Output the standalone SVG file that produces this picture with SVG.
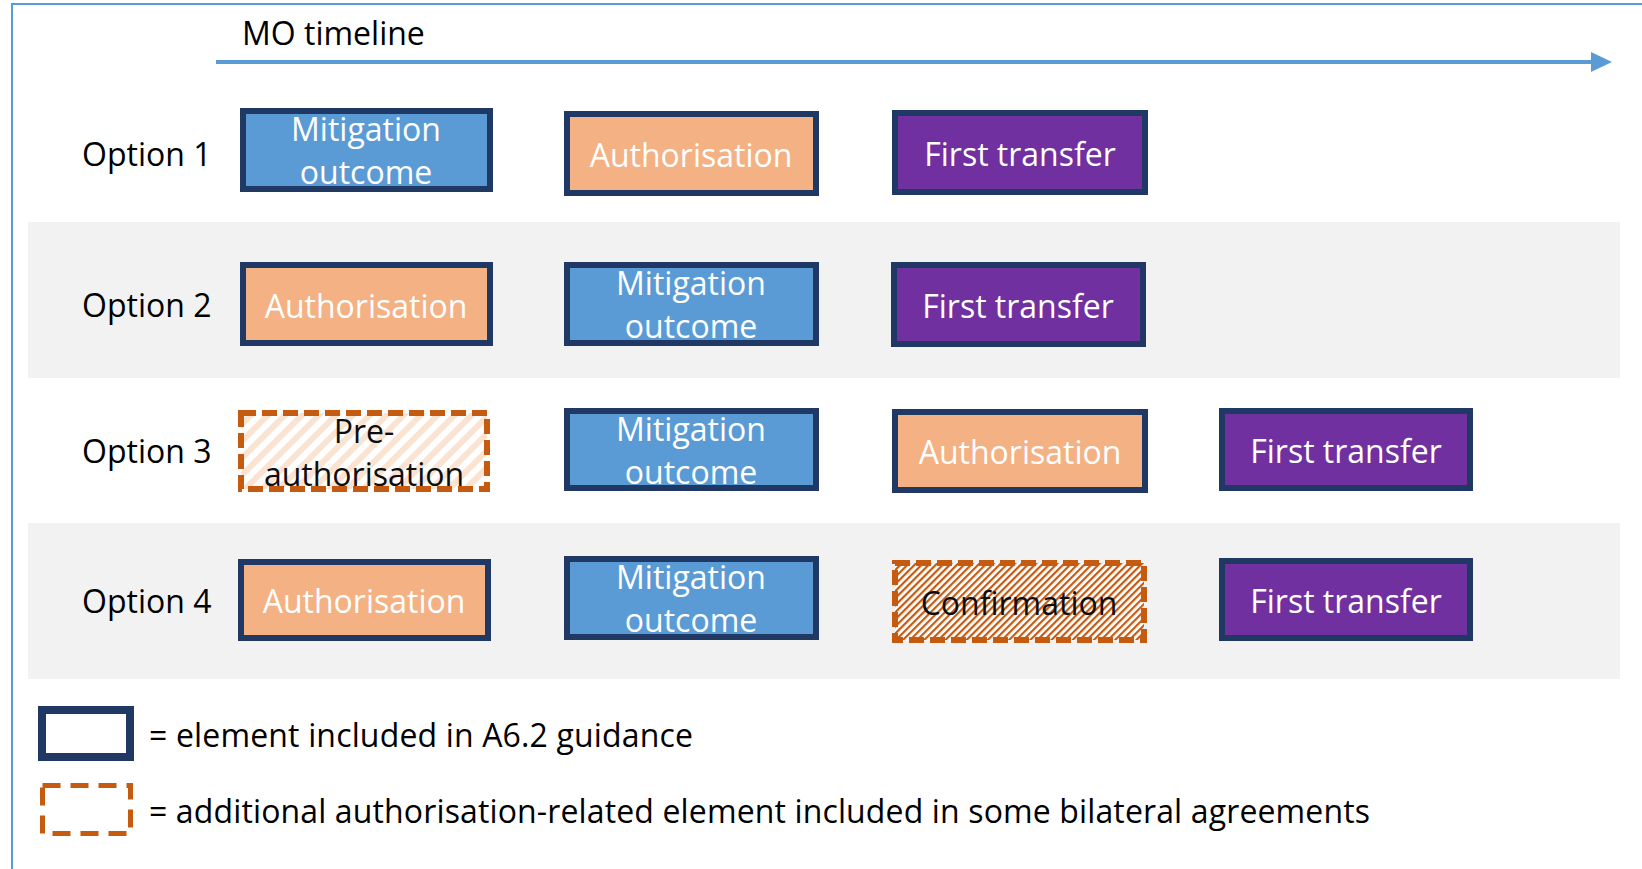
<svg xmlns="http://www.w3.org/2000/svg" width="1642" height="869" viewBox="0 0 1642 869">
<defs>
<style>
text{font-family:"Open Sans","Liberation Sans",sans-serif;font-size:32px}
.lbl{fill:#000}
.wt{fill:#fff;text-anchor:middle}
.dk{fill:#0d0d0d;text-anchor:middle}
.solid{stroke:#203864;stroke-width:6}
.mo{fill:#5b9bd5}
.au{fill:#f4b183}
.ft{fill:#7030a0}
.dash{stroke:#c55a11;stroke-width:6;stroke-dasharray:15 6}
.band{fill:#f2f2f2}
</style>
<pattern id="wide" patternUnits="userSpaceOnUse" width="12" height="12" patternTransform="rotate(45)">
<rect width="12" height="12" fill="#fff"/>
<rect width="6" height="12" fill="#fbe3d2"/>
</pattern>
<pattern id="dense" patternUnits="userSpaceOnUse" width="5" height="5" patternTransform="rotate(45)">
<rect width="5" height="5" fill="#fff"/>
<rect width="2.2" height="5" fill="#c55a11"/>
</pattern>
</defs>
<rect width="1642" height="869" fill="#fff"/>
<path d="M12,869 V4 H1642" fill="none" stroke="#5b9bd5" stroke-width="2"/>
<rect class="band" x="28" y="222" width="1592" height="156"/>
<rect class="band" x="28" y="523" width="1592" height="156"/>
<g id="connectors">
<line x1="216" y1="62" x2="1593" y2="62" stroke="#5b9bd5" stroke-width="4"/>
<polygon points="1591,52 1612,62 1591,72" fill="#5b9bd5"/>
</g>
<text id="title" class="lbl" x="242" y="45">MO timeline</text>
<g id="labels">
<text class="lbl" x="82" y="166">Option 1</text>
<text class="lbl" x="82" y="317">Option 2</text>
<text class="lbl" x="82" y="463">Option 3</text>
<text class="lbl" x="82" y="613">Option 4</text>
</g>
<g id="r1-mo"><rect class="solid mo" x="243" y="111" width="247" height="78"/><text class="wt" x="366" y="141">Mitigation</text><text class="wt" x="366" y="184">outcome</text></g>
<g id="r1-auth"><rect class="solid au" x="567" y="114" width="249" height="79"/><text class="wt" x="691" y="167">Authorisation</text></g>
<g id="r1-ft"><rect class="solid ft" x="895" y="113" width="250" height="79"/><text class="wt" x="1020" y="166">First transfer</text></g>
<g id="r2-auth"><rect class="solid au" x="243" y="265" width="247" height="78"/><text class="wt" x="366" y="318">Authorisation</text></g>
<g id="r2-mo"><rect class="solid mo" x="567" y="265" width="249" height="78"/><text class="wt" x="691" y="295">Mitigation</text><text class="wt" x="691" y="338">outcome</text></g>
<g id="r2-ft"><rect class="solid ft" x="894" y="265" width="249" height="79"/><text class="wt" x="1018" y="318">First transfer</text></g>
<g id="r3-pre"><rect class="dash" fill="url(#wide)" x="241" y="413" width="246" height="76"/><text class="dk" x="364" y="443">Pre-</text><text class="dk" x="364" y="486">authorisation</text></g>
<g id="r3-mo"><rect class="solid mo" x="567" y="411" width="249" height="77"/><text class="wt" x="691" y="441">Mitigation</text><text class="wt" x="691" y="484">outcome</text></g>
<g id="r3-auth"><rect class="solid au" x="895" y="412" width="250" height="78"/><text class="wt" x="1020" y="464">Authorisation</text></g>
<g id="r3-ft"><rect class="solid ft" x="1222" y="411" width="248" height="77"/><text class="wt" x="1346" y="463">First transfer</text></g>
<g id="r4-auth"><rect class="solid au" x="241" y="562" width="247" height="76"/><text class="wt" x="364" y="613">Authorisation</text></g>
<g id="r4-mo"><rect class="solid mo" x="567" y="559" width="249" height="78"/><text class="wt" x="691" y="589">Mitigation</text><text class="wt" x="691" y="632">outcome</text></g>
<g id="r4-conf"><rect class="dash" fill="url(#dense)" x="895" y="563" width="249" height="77"/><text class="dk" x="1019" y="615">Confirmation</text></g>
<g id="r4-ft"><rect class="solid ft" x="1222" y="561" width="248" height="77"/><text class="wt" x="1346" y="613">First transfer</text></g>
<g id="legend">
<rect x="42" y="710" width="88" height="47" fill="#fff" stroke="#203864" stroke-width="8"/>
<text class="lbl" x="149" y="747" textLength="544">= element included in A6.2 guidance</text>
<rect x="42.5" y="785.5" width="88" height="48" fill="#fff" stroke="#c55a11" stroke-width="5" stroke-dasharray="18 10"/>
<text class="lbl" x="149" y="823" textLength="1221">= additional authorisation-related element included in some bilateral agreements</text>
</g>
</svg>
